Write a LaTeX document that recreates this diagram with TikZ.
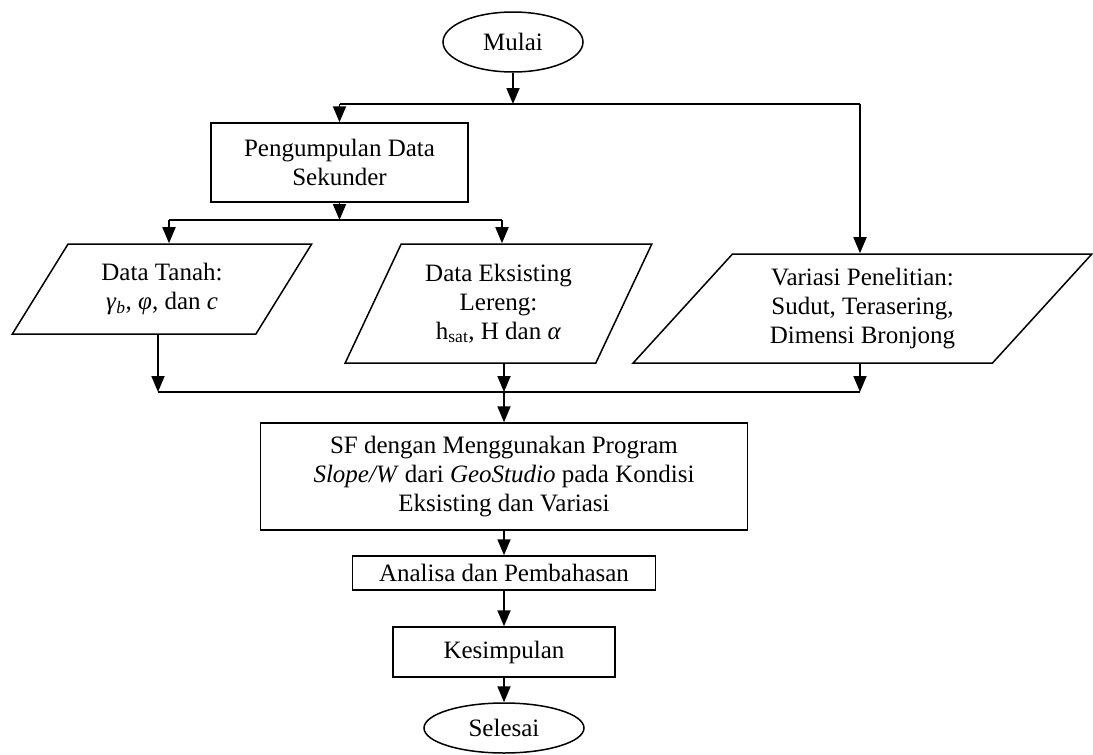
\documentclass[tikz,border=0pt]{standalone}
\usepackage{fontspec}
\setmainfont{Liberation Serif}
\usetikzlibrary{shapes.geometric,arrows.meta}

\tikzset{
  proc/.style={draw, line width=1.5pt, rectangle, align=center, inner sep=2pt},
  term/.style={draw, line width=1.5pt, ellipse, inner sep=0pt},
  data/.style={draw, line width=1.5pt, trapezium, trapezium stretches=true,
    align=center, inner sep=2pt},
  flow/.style={-{Triangle[length=16pt,width=13pt]}, line width=1.8pt},
}

\begin{document}
\begin{tikzpicture}[x=1pt, y=-1pt, font=\fontsize{25}{29}\selectfont]
  \useasboundingbox (0,0) rectangle (1093,755);
  \draw
    (513,42) node[term, minimum width=140, minimum height=60] (mulai){Mulai}
    (339.5,162.5) node[proc, minimum width=257, minimum height=79] (pds){Pengumpulan Data\\Sekunder}
    (162,289) node[data, trapezium left angle=56.3, trapezium right angle=123.7,
      minimum width=300, minimum height=90] (tanah){Data Tanah:\\\textit{γ}\textsubscript{\textit{b}}, \textit{φ}, dan \textit{c}}
    (498.5,303.5) node[data, trapezium left angle=62.5, trapezium right angle=117.5,
      minimum width=307, minimum height=119] (eks){Data Eksisting\\Lereng:\\h\textsubscript{sat}, H dan \textit{α}}
    (862.5,308.5) node[data, trapezium left angle=49.5, trapezium right angle=130.5,
      minimum width=459, minimum height=109] (vari){Variasi Penelitian:\\Sudut, Terasering,\\Dimensi Bronjong}
    (504,476.5) node[proc, minimum width=487, minimum height=107] (sf){SF dengan Menggunakan Program\\\textit{Slope/W} dari \textit{GeoStudio} pada Kondisi\\Eksisting dan Variasi}
    (504,573) node[proc, minimum width=303, minimum height=34] (ana){Analisa dan Pembahasan}
    (504,652) node[proc, minimum width=222, minimum height=50] (kes){Kesimpulan}
    (504,728) node[term, minimum width=160, minimum height=50] (sel){Selesai};
  % titik percabangan
  \coordinate (a0) at (339.5,104);
  \coordinate (a1) at (513,104);
  \coordinate (a2) at (860,104);
  \coordinate (b0) at (339.5,220);
  \coordinate (b1) at (169,220);
  \coordinate (b2) at (502,220);
  \coordinate (c0) at (504,392);
  \coordinate (c1) at (158,392);
  \coordinate (c2) at (860,392);
  \begin{scope}[flow]
    \draw (mulai) to (a1);
    \draw[-] (a0) to (a2);
    \draw (a0) to (pds);
    \draw (a2) to (a2 |- vari.north);
    \draw (pds) to (b0);
    \draw[-] (b1) to (b2);
    \draw (b1) to (b1 |- tanah.north);
    \draw (b2) to (b2 |- eks.north);
    \draw (c1 |- tanah.south) to (c1);
    \draw (c0 |- eks.south) to (c0);
    \draw (c2 |- vari.south) to (c2);
    \draw[-] (c1) to (c2);
    \draw (c0) to (sf);
    \draw (sf) to (ana);
    \draw (ana) to (kes);
    \draw (kes) to (sel);
  \end{scope}
\end{tikzpicture}
\end{document}
